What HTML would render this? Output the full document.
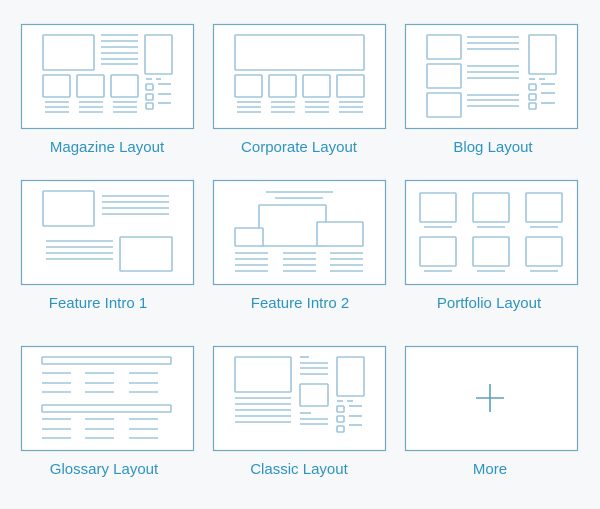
<!DOCTYPE html>
<html><head><meta charset="utf-8"><style>
html,body{margin:0;padding:0;background:#f6f8fa;}
svg{display:block}
text{font-family:"Liberation Sans",sans-serif;font-size:15px;fill:#2e93c0;text-anchor:middle}
.c{fill:#fff;stroke:#6ea9c0;stroke-width:1.2}
.r{fill:none;stroke:#9ec5dc;stroke-width:1.6}
.l{stroke:#9ec5dc;stroke-width:1.6}
</style></head><body>
<svg width="600" height="509" viewBox="0 0 600 509">
<rect width="600" height="509" fill="#f6f8fa"/>
<!-- cards -->
<rect class="c" x="21.5" y="24.5" width="172" height="104"/>
<rect class="c" x="213.5" y="24.5" width="172" height="104"/>
<rect class="c" x="405.5" y="24.5" width="172" height="104"/>
<rect class="c" x="21.5" y="180.5" width="172" height="104"/>
<rect class="c" x="213.5" y="180.5" width="172" height="104"/>
<rect class="c" x="405.5" y="180.5" width="172" height="104"/>
<rect class="c" x="21.5" y="346.5" width="172" height="104"/>
<rect class="c" x="213.5" y="346.5" width="172" height="104"/>
<rect class="c" x="405.5" y="346.5" width="172" height="104"/>

<!-- Magazine -->
<rect class="r" x="43" y="35" width="51" height="35" rx="1"/>
<g class="l"><line x1="101" x2="138" y1="35" y2="35"/><line x1="101" x2="138" y1="41" y2="41"/><line x1="101" x2="138" y1="47" y2="47"/><line x1="101" x2="138" y1="53" y2="53"/><line x1="101" x2="138" y1="59" y2="59"/><line x1="101" x2="138" y1="64" y2="64"/></g>
<rect class="r" x="145" y="35" width="27" height="39" rx="1"/>
<rect class="r" x="43" y="75" width="27" height="22" rx="1"/>
<rect class="r" x="77" y="75" width="27" height="22" rx="1"/>
<rect class="r" x="111" y="75" width="27" height="22" rx="1"/>
<g class="l">
<line x1="45" x2="69" y1="102" y2="102"/><line x1="45" x2="69" y1="107" y2="107"/><line x1="45" x2="69" y1="112" y2="112"/>
<line x1="79" x2="103" y1="102" y2="102"/><line x1="79" x2="103" y1="107" y2="107"/><line x1="79" x2="103" y1="112" y2="112"/>
<line x1="113" x2="137" y1="102" y2="102"/><line x1="113" x2="137" y1="107" y2="107"/><line x1="113" x2="137" y1="112" y2="112"/>
<line x1="146" x2="152" y1="79" y2="79"/><line x1="156" x2="161" y1="79" y2="79"/>
<line x1="158" x2="171" y1="84" y2="84"/><line x1="158" x2="171" y1="94" y2="94"/><line x1="158" x2="171" y1="103" y2="103"/>
</g>
<rect class="r" x="146" y="84" width="7" height="6" rx="1"/>
<rect class="r" x="146" y="94" width="7" height="6" rx="1"/>
<rect class="r" x="146" y="103" width="7" height="6" rx="1"/>

<!-- Corporate -->
<rect class="r" x="235" y="35" width="129" height="35" rx="1"/>
<rect class="r" x="235" y="75" width="27" height="22" rx="1"/>
<rect class="r" x="269" y="75" width="27" height="22" rx="1"/>
<rect class="r" x="303" y="75" width="27" height="22" rx="1"/>
<rect class="r" x="337" y="75" width="27" height="22" rx="1"/>
<g class="l">
<line x1="237" x2="261" y1="102" y2="102"/><line x1="237" x2="261" y1="107" y2="107"/><line x1="237" x2="261" y1="112" y2="112"/>
<line x1="271" x2="295" y1="102" y2="102"/><line x1="271" x2="295" y1="107" y2="107"/><line x1="271" x2="295" y1="112" y2="112"/>
<line x1="305" x2="329" y1="102" y2="102"/><line x1="305" x2="329" y1="107" y2="107"/><line x1="305" x2="329" y1="112" y2="112"/>
<line x1="339" x2="363" y1="102" y2="102"/><line x1="339" x2="363" y1="107" y2="107"/><line x1="339" x2="363" y1="112" y2="112"/>
</g>

<!-- Blog -->
<rect class="r" x="427" y="35" width="34" height="24" rx="1"/>
<rect class="r" x="427" y="64" width="34" height="24" rx="1"/>
<rect class="r" x="427" y="93" width="34" height="24" rx="1"/>
<g class="l">
<line x1="467" x2="519" y1="37" y2="37"/><line x1="467" x2="519" y1="43" y2="43"/><line x1="467" x2="519" y1="49" y2="49"/>
<line x1="467" x2="519" y1="66" y2="66"/><line x1="467" x2="519" y1="72" y2="72"/><line x1="467" x2="519" y1="78" y2="78"/>
<line x1="467" x2="519" y1="95" y2="95"/><line x1="467" x2="519" y1="100" y2="100"/><line x1="467" x2="519" y1="106" y2="106"/>
<line x1="529" x2="535" y1="79" y2="79"/><line x1="539" x2="545" y1="79" y2="79"/>
<line x1="541" x2="555" y1="84" y2="84"/><line x1="541" x2="555" y1="93" y2="93"/><line x1="541" x2="555" y1="103" y2="103"/>
</g>
<rect class="r" x="529" y="35" width="27" height="39" rx="1"/>
<rect class="r" x="529" y="84" width="7" height="6" rx="1"/>
<rect class="r" x="529" y="94" width="7" height="6" rx="1"/>
<rect class="r" x="529" y="103" width="7" height="6" rx="1"/>

<!-- Feature Intro 1 -->
<rect class="r" x="43" y="191" width="51" height="35" rx="1"/>
<rect class="r" x="120" y="237" width="52" height="34" rx="1"/>
<g class="l">
<line x1="102" x2="169" y1="196" y2="196"/><line x1="102" x2="169" y1="202" y2="202"/><line x1="102" x2="169" y1="208" y2="208"/><line x1="102" x2="169" y1="214" y2="214"/>
<line x1="46" x2="113" y1="241" y2="241"/><line x1="46" x2="113" y1="247" y2="247"/><line x1="46" x2="113" y1="253" y2="253"/><line x1="46" x2="113" y1="259" y2="259"/>
</g>

<!-- Feature Intro 2 -->
<g class="l">
<line x1="266" x2="333" y1="192" y2="192"/><line x1="275" x2="323" y1="198" y2="198"/>
<line x1="235" x2="268" y1="253" y2="253"/><line x1="235" x2="268" y1="259" y2="259"/><line x1="235" x2="268" y1="265" y2="265"/><line x1="235" x2="268" y1="271" y2="271"/>
<line x1="283" x2="316" y1="253" y2="253"/><line x1="283" x2="316" y1="259" y2="259"/><line x1="283" x2="316" y1="265" y2="265"/><line x1="283" x2="316" y1="271" y2="271"/>
<line x1="330" x2="363" y1="253" y2="253"/><line x1="330" x2="363" y1="259" y2="259"/><line x1="330" x2="363" y1="265" y2="265"/><line x1="330" x2="363" y1="271" y2="271"/>
</g>
<rect class="r" x="259" y="205" width="67" height="41" rx="1"/>
<rect class="r" x="235" y="228" width="28" height="18" rx="1" fill="#fff" style="fill:#fff"/>
<rect class="r" x="317" y="222" width="46" height="24" rx="1" style="fill:#fff"/>

<!-- Portfolio -->
<rect class="r" x="420" y="193" width="36" height="29" rx="1"/>
<rect class="r" x="473" y="193" width="36" height="29" rx="1"/>
<rect class="r" x="526" y="193" width="36" height="29" rx="1"/>
<rect class="r" x="420" y="237" width="36" height="29" rx="1"/>
<rect class="r" x="473" y="237" width="36" height="29" rx="1"/>
<rect class="r" x="526" y="237" width="36" height="29" rx="1"/>
<g class="l">
<line x1="424" x2="452" y1="227" y2="227"/><line x1="477" x2="505" y1="227" y2="227"/><line x1="530" x2="558" y1="227" y2="227"/>
<line x1="424" x2="452" y1="271" y2="271"/><line x1="477" x2="505" y1="271" y2="271"/><line x1="530" x2="558" y1="271" y2="271"/>
</g>

<!-- Glossary -->
<rect class="r" x="42" y="357" width="129" height="7" rx="1"/>
<rect class="r" x="42" y="405" width="129" height="7" rx="1"/>
<g class="l">
<line x1="42" x2="71" y1="373" y2="373"/><line x1="85" x2="114" y1="373" y2="373"/><line x1="129" x2="158" y1="373" y2="373"/>
<line x1="42" x2="71" y1="383" y2="383"/><line x1="85" x2="114" y1="383" y2="383"/><line x1="129" x2="158" y1="383" y2="383"/>
<line x1="42" x2="71" y1="392" y2="392"/><line x1="85" x2="114" y1="392" y2="392"/><line x1="129" x2="158" y1="392" y2="392"/>
<line x1="42" x2="71" y1="419" y2="419"/><line x1="85" x2="114" y1="419" y2="419"/><line x1="129" x2="158" y1="419" y2="419"/>
<line x1="42" x2="71" y1="429" y2="429"/><line x1="85" x2="114" y1="429" y2="429"/><line x1="129" x2="158" y1="429" y2="429"/>
<line x1="42" x2="71" y1="438" y2="438"/><line x1="85" x2="114" y1="438" y2="438"/><line x1="129" x2="158" y1="438" y2="438"/>
</g>

<!-- Classic -->
<rect class="r" x="235" y="357" width="56" height="35" rx="1"/>
<rect class="r" x="300" y="384" width="28" height="22" rx="1"/>
<rect class="r" x="337" y="357" width="27" height="39" rx="1"/>
<g class="l">
<line x1="300" x2="309" y1="357" y2="357"/><line x1="300" x2="328" y1="363" y2="363"/><line x1="300" x2="328" y1="368" y2="368"/><line x1="300" x2="328" y1="374" y2="374"/>
<line x1="235" x2="291" y1="398" y2="398"/><line x1="235" x2="291" y1="404" y2="404"/><line x1="235" x2="291" y1="410" y2="410"/><line x1="235" x2="291" y1="416" y2="416"/><line x1="235" x2="291" y1="422" y2="422"/>
<line x1="300" x2="311" y1="413" y2="413"/><line x1="300" x2="328" y1="419" y2="419"/><line x1="300" x2="328" y1="424" y2="424"/>
<line x1="337" x2="343" y1="401" y2="401"/><line x1="347" x2="353" y1="401" y2="401"/>
<line x1="349" x2="362" y1="406" y2="406"/><line x1="349" x2="362" y1="416" y2="416"/><line x1="349" x2="362" y1="425" y2="425"/>
</g>
<rect class="r" x="337" y="406" width="7" height="6" rx="1"/>
<rect class="r" x="337" y="416" width="7" height="6" rx="1"/>
<rect class="r" x="337" y="426" width="7" height="6" rx="1"/>

<!-- More -->
<line x1="476" x2="504" y1="398" y2="398" stroke="#5c9fbb" stroke-width="1.6"/>
<line x1="490" x2="490" y1="384" y2="412" stroke="#5c9fbb" stroke-width="1.6"/>

<!-- labels -->
<text x="107" y="152">Magazine Layout</text>
<text x="299" y="152">Corporate Layout</text>
<text x="493" y="152">Blog Layout</text>
<text x="98" y="308">Feature Intro 1</text>
<text x="300" y="308">Feature Intro 2</text>
<text x="489" y="308">Portfolio Layout</text>
<text x="104" y="474">Glossary Layout</text>
<text x="299" y="474">Classic Layout</text>
<text x="490" y="474">More</text>
</svg>
</body></html>
